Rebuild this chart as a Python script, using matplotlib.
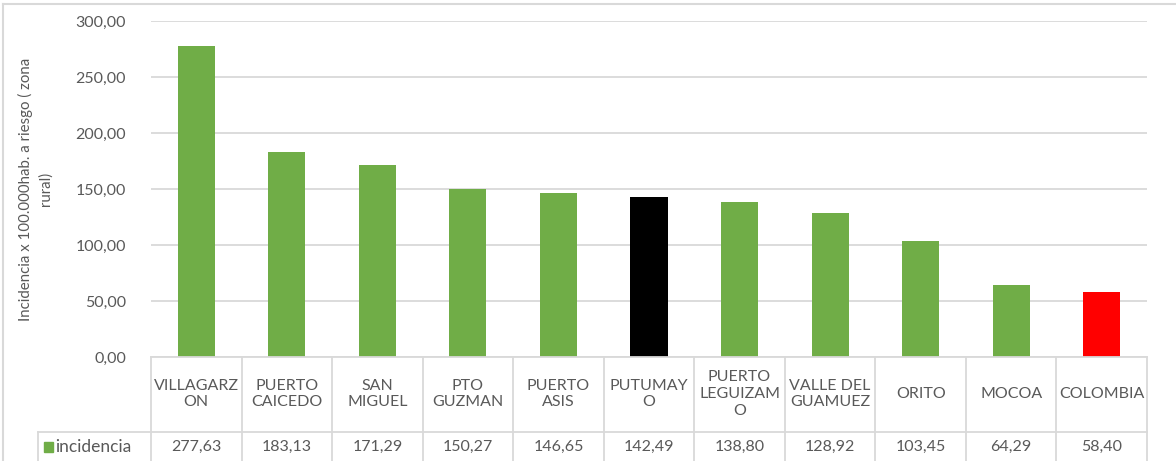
import numpy as np
import matplotlib.pyplot as plt
from matplotlib.lines import Line2D
from matplotlib.patches import Rectangle
from matplotlib.ticker import FuncFormatter
import matplotlib.transforms as mtransforms

plt.rcParams['font.family'] = ['Lato', 'DejaVu Sans']

categories = ["VILLAGARZON", "PUERTO CAICEDO", "SAN MIGUEL", "PTO GUZMAN", "PUERTO ASIS",
              "PUTUMAYO", "PUERTO LEGUIZAMO", "VALLE DEL GUAMUEZ", "ORITO", "MOCOA", "COLOMBIA"]
# labels as wrapped in the chart's data table
table_labels = ["VILLAGARZ\nON", "PUERTO\nCAICEDO", "SAN\nMIGUEL", "PTO\nGUZMAN", "PUERTO\nASIS",
                "PUTUMAY\nO", "PUERTO\nLEGUIZAM\nO", "VALLE DEL\nGUAMUEZ", "ORITO", "MOCOA", "COLOMBIA"]
incidencia = [277.63, 183.13, 171.29, 150.27, 146.65, 142.49, 138.80, 128.92, 103.45, 64.29, 58.40]
series_name = "incidencia"
y_ticks = [0, 50, 100, 150, 200, 250, 300]

GREEN = "#70AD47"
TEXT = "#595959"
GRID = "#D9D9D9"
highlight = {"PUTUMAYO": "#000000", "COLOMBIA": "#FF0000"}


def comma(v, pos=None):
    return f"{v:,.2f}".replace(",", "X").replace(".", ",").replace("X", ".")


W, H = 1176, 461
fig = plt.figure(figsize=(W / 100, H / 100), dpi=100)

# plot area in pixels
x0, x1 = 151, 1147
y_top, y_bot = 21, 357
ax = fig.add_axes([x0 / W, 1 - y_bot / H, (x1 - x0) / W, (y_bot - y_top) / H])

x = np.arange(len(categories))
colors = [highlight.get(c, GREEN) for c in categories]
ax.bar(x, incidencia, width=0.41, color=colors, zorder=3)

ax.set_xlim(-0.5, len(categories) - 0.5)
ax.set_ylim(0, 300)
ax.set_yticks(y_ticks)
ax.yaxis.set_major_formatter(FuncFormatter(comma))
ax.tick_params(axis='y', length=0, pad=18, labelsize=11.5, labelcolor=TEXT)
ax.set_xticks([])
ax.grid(axis='y', color=GRID, linewidth=1.3, zorder=0)
for s in ["top", "right", "left"]:
    ax.spines[s].set_visible(False)
ax.spines["bottom"].set_color(GRID)
ax.spines["bottom"].set_linewidth(1.3)
ax.spines["bottom"].set_zorder(4)

ax.set_ylabel("Incidencia x 100.000hab. a riesgo ( zona\nrural)", fontsize=10.8, color=TEXT,
              linespacing=1.5)
ax.yaxis.set_label_coords(-(151 - 53) / (x1 - x0), 0.5)

# data table below the plot
px = (y_bot - y_top)  # axes height in pixels
row_sep = -(432 - y_bot) / px
table_bot = -(470 - y_bot) / px
cat_mid = -(394 - y_bot) / px
val_mid = -(447 - y_bot) / px
col_w = (x1 - x0) / len(categories)
leg_left = -0.5 - (x0 - 38) / col_w

trans = mtransforms.blended_transform_factory(ax.transData, ax.transAxes)
lkw = dict(color=GRID, linewidth=1.3, transform=trans, clip_on=False)
for b in np.arange(len(categories) + 1) - 0.5:
    ax.add_line(Line2D([b, b], [0, table_bot], **lkw))
ax.add_line(Line2D([leg_left, len(categories) - 0.5], [row_sep, row_sep], **lkw))
ax.add_line(Line2D([leg_left, leg_left], [row_sep, table_bot], **lkw))

for i, (lab, v) in enumerate(zip(table_labels, incidencia)):
    ax.text(i, cat_mid, lab, transform=trans, ha='center', va='center', fontsize=11.5,
            color=TEXT, linespacing=1.25)
    ax.text(i, val_mid, comma(v), transform=trans, ha='center', va='center', fontsize=11.5,
            color=TEXT)

sq = 9 / col_w
ax.add_patch(Rectangle((leg_left + 6 / col_w, val_mid - 5 / px), sq, 10 / px, transform=trans,
                       color=GREEN, clip_on=False))
ax.text(leg_left + 17 / col_w, val_mid, series_name, transform=trans, ha='left', va='center',
        fontsize=12.5, color=TEXT)

# chart frame edges visible in the crop
fig.add_artist(Line2D([3 / W, 1], [1 - 4.5 / H, 1 - 4.5 / H], color=GRID, linewidth=1.5,
                      transform=fig.transFigure))
fig.add_artist(Line2D([3 / W, 3 / W], [0, 1 - 4.5 / H], color=GRID, linewidth=1.5,
                      transform=fig.transFigure))

fig.savefig("out.png", dpi=100, facecolor="white")
